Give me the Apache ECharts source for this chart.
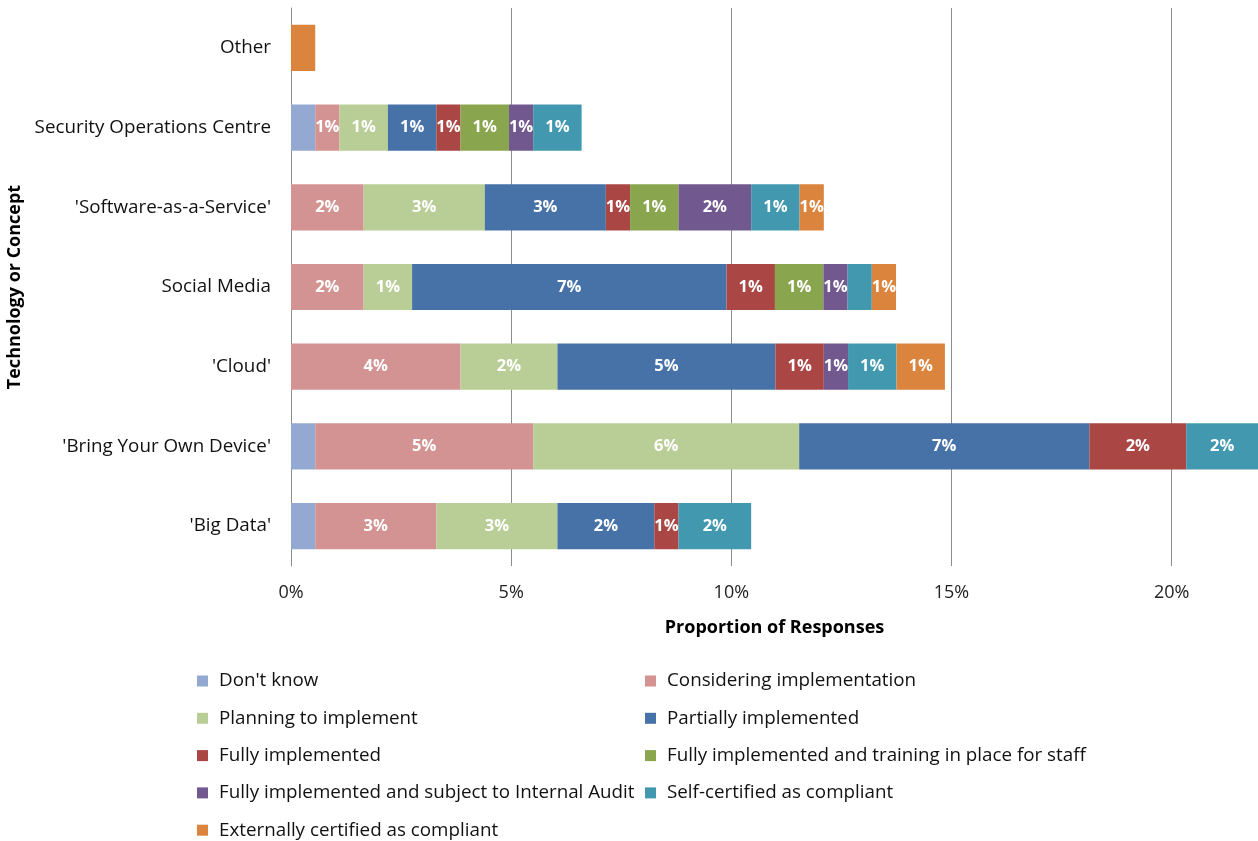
<!DOCTYPE html>
<html>
<head>
<meta charset="utf-8">
<script src="https://cdn.jsdelivr.net/npm/echarts@6/dist/echarts.min.js"></script>
<style>
  html, body { margin: 0; padding: 0; background: #fff; }
  #chart { width: 1258px; height: 841px; }
</style>
</head>
<body>
<div id="chart"></div>
<script>
// Categories, bottom to top
const categories = ["'Big Data'", "'Bring Your Own Device'", "'Cloud'", "Social Media",
  "'Software-as-a-Service'", "Security Operations Centre", "Other"];

// Share of responses (%) per status, one value per category (null = none)
const dontKnow     = [0.55, 0.55, null, null, null, 0.55, null];
const considering  = [2.75, 4.95, 3.85, 1.65, 1.65, 0.55, null];
const planning     = [2.75, 6.04, 2.20, 1.10, 2.75, 1.10, null];
const partially    = [2.20, 6.59, 4.95, 7.14, 2.75, 1.10, null];
const fully        = [0.55, 2.20, 1.10, 1.10, 0.55, 0.55, null];
const fullyTrained = [null, null, null, 1.10, 1.10, 1.10, null];
const fullyAudited = [null, null, 0.55, 0.55, 1.65, 0.55, null];
const selfCert     = [1.65, 1.65, 1.10, 0.55, 1.10, 1.10, null];
const externalCert = [null, null, 1.10, 0.55, 0.55, null, 0.55];

const xTicks = [0, 5, 10, 15, 20];

const seriesNames = ["Don't know", "Considering implementation", "Planning to implement",
  "Partially implemented", "Fully implemented", "Fully implemented and training in place for staff",
  "Fully implemented and subject to Internal Audit", "Self-certified as compliant",
  "Externally certified as compliant"];
const seriesData = [dontKnow, considering, planning, partially, fully, fullyTrained,
  fullyAudited, selfCert, externalCert];
const colors = ['#94A9D2', '#D39392', '#B9CE97', '#4672A8', '#AA4644', '#89A54E',
  '#71588F', '#4298AF', '#DB843D'];

// segments printed without a value label: [series index, category index]
const unlabeled = [[7, 3], [8, 6]];

const FONT = '"Open Sans", Lato, sans-serif';

const series = seriesNames.map((name, si) => ({
  name,
  type: 'bar',
  stack: 'total',
  barCategoryGap: '42%',
  itemStyle: { color: colors[si] },
  label: {
    show: si !== 0,
    position: 'inside',
    color: '#fff',
    fontFamily: FONT,
    fontWeight: 'bold',
    fontSize: 16.5,
    formatter: p => (p.value == null ? '' : Math.round(p.value) + '%')
  },
  data: seriesData[si].map((v, ci) =>
    unlabeled.some(u => u[0] === si && u[1] === ci) ? { value: v, label: { show: false } } : v)
}));

const col1 = [seriesNames[0], seriesNames[2], seriesNames[4], seriesNames[6], seriesNames[8]];
const col2 = [seriesNames[1], seriesNames[3], seriesNames[5], seriesNames[7]];
const legendBase = {
  type: 'plain',
  orient: 'vertical',
  top: 671,
  height: 200,
  padding: 0,
  icon: 'rect',
  itemWidth: 11,
  itemHeight: 11,
  itemGap: 17.3,
  selectedMode: false,
  textStyle: { fontFamily: FONT, fontSize: 18.8, color: '#111', lineHeight: 20, padding: [0, 0, 0, 6] }
};

const chart = echarts.init(document.getElementById('chart'), null, { renderer: 'canvas' });
chart.setOption({
  animation: false,
  color: colors,
  grid: { left: 291, right: 0, top: 8, height: 558, containLabel: false, outerBoundsMode: 'none' },
  legend: [
    Object.assign({}, legendBase, { left: 197, data: col1 }),
    Object.assign({}, legendBase, { left: 645, data: col2 })
  ],
  xAxis: {
    type: 'value',
    min: 0,
    max: 21.96,
    interval: 5,
    name: 'Proportion of Responses',
    nameLocation: 'middle',
    nameGap: 53,
    nameTextStyle: { fontFamily: FONT, fontSize: 18, fontWeight: 'bold', color: '#000' },
    axisLine: { show: false },
    axisTick: { show: false },
    axisLabel: {
      fontFamily: FONT, fontSize: 18, color: '#222', margin: 18,
      showMaxLabel: false,
      formatter: v => (xTicks.includes(v) ? v + '%' : '')
    },
    splitLine: { show: true, showMaxLine: false, lineStyle: { color: '#8c8c8c', width: 1 } }
  },
  yAxis: {
    type: 'category',
    data: categories,
    name: 'Technology or Concept',
    nameLocation: 'middle',
    nameRotate: 90,
    nameGap: 264,
    nameTextStyle: { fontFamily: FONT, fontSize: 18, fontWeight: 'bold', color: '#000' },
    axisLine: { show: true, lineStyle: { color: '#8c8c8c', width: 1 } },
    axisTick: { show: false },
    axisLabel: { fontFamily: FONT, fontSize: 18.8, color: '#111', margin: 20 }
  },
  series
});
</script>
</body>
</html>
